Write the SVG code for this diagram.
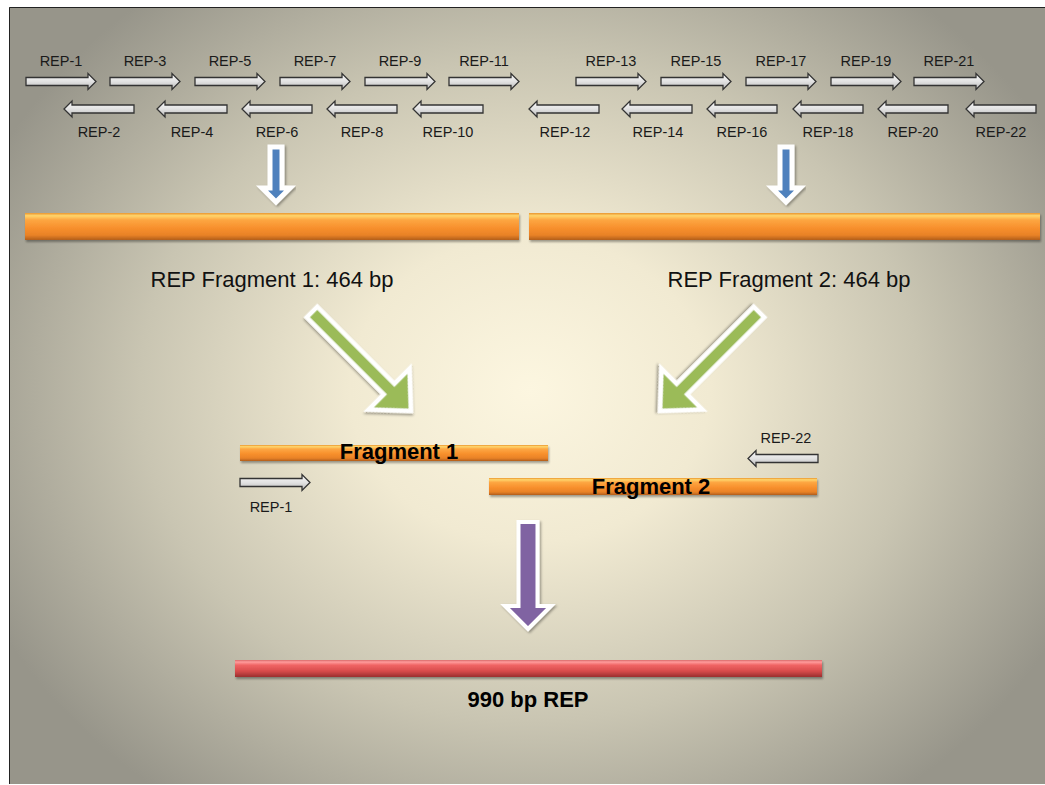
<svg xmlns="http://www.w3.org/2000/svg" xmlns:xlink="http://www.w3.org/1999/xlink" width="1045" height="785" viewBox="0 0 1045 785">
<defs>
  <radialGradient id="bg" gradientUnits="userSpaceOnUse" cx="530" cy="390" r="600" gradientTransform="translate(530 390) scale(1 0.85) translate(-530 -390)">
    <stop offset="0" stop-color="#fcf6e0"/>
    <stop offset="0.3" stop-color="#f1ead2"/>
    <stop offset="0.65" stop-color="#c9c5b2"/>
    <stop offset="1" stop-color="#97958a"/>
  </radialGradient>
  <linearGradient id="og" x1="0" y1="0" x2="0" y2="1">
    <stop offset="0" stop-color="#e9952f"/>
    <stop offset="0.1" stop-color="#ffd56c"/>
    <stop offset="0.25" stop-color="#fda743"/>
    <stop offset="0.55" stop-color="#f8902d"/>
    <stop offset="0.82" stop-color="#e98227"/>
    <stop offset="1" stop-color="#b25e1a"/>
  </linearGradient>
  <linearGradient id="rg" x1="0" y1="0" x2="0" y2="1">
    <stop offset="0" stop-color="#d86a6a"/>
    <stop offset="0.12" stop-color="#ff9c9c"/>
    <stop offset="0.3" stop-color="#f06464"/>
    <stop offset="0.65" stop-color="#d84c4c"/>
    <stop offset="1" stop-color="#9a2e2e"/>
  </linearGradient>
  <linearGradient id="ag" x1="0" y1="0" x2="0" y2="1">
    <stop offset="0" stop-color="#fbfbfb"/>
    <stop offset="0.5" stop-color="#e2e2e2"/>
    <stop offset="1" stop-color="#b9b9b9"/>
  </linearGradient>
  <filter id="sh" x="-10%" y="-50%" width="120%" height="200%">
    <feDropShadow dx="1" dy="2" stdDeviation="1.2" flood-color="#000" flood-opacity="0.35"/>
  </filter>
  <filter id="sh2" x="-20%" y="-20%" width="140%" height="140%">
    <feDropShadow dx="1.5" dy="1.5" stdDeviation="1" flood-color="#000" flood-opacity="0.35"/>
  </filter>
  <path id="ra" d="M0,-4 H62 V-8 L70,0 L62,8 V4 H0 Z"/>
  <path id="ga" d="M-140,-7.5 H-31 V-29 L0,0 L-31,29 V7.5 H-140 Z"/>
</defs>
<style>
  .lbl{font-family:"Liberation Sans",Arial,sans-serif;font-size:14.5px;fill:#1a1a1a;text-anchor:middle}
  .big{font-family:"Liberation Sans",Arial,sans-serif;font-size:22px;fill:#111;text-anchor:middle}
  .bold{font-family:"Liberation Sans",Arial,sans-serif;font-size:22px;font-weight:bold;fill:#000;text-anchor:middle}
  .rep{fill:url(#ag);stroke:#333;stroke-width:1.3;stroke-linejoin:miter}
  .bar{fill:url(#og);filter:url(#sh)}
  .blue{fill:#4f81bd;stroke:#fff;stroke-width:5;filter:url(#sh2)}
  .green{fill:#9bbb59;stroke:#fff;stroke-width:4.5;filter:url(#sh2)}
  .purple{fill:#8064a2;stroke:#fff;stroke-width:4;filter:url(#sh2)}
</style>
<rect x="0" y="0" width="1045" height="785" fill="#fff"/>
<rect x="9" y="7" width="1036" height="777" fill="url(#bg)"/>
<path d="M9.5,784 V7.5 H1045" fill="none" stroke="#222" stroke-width="1"/>

<g id="connectors">
  <path class="blue" d="M270,147 H282 V188 H290 L276,202 L262,188 H270 Z"/>
  <path class="blue" d="M780,147 H792 V188 H800 L786,202 L772,188 H780 Z"/>
  <use xlink:href="#ga" class="green" transform="translate(411 411) rotate(45)"/>
  <use xlink:href="#ga" class="green" transform="translate(660 411) rotate(135)"/>
  <path class="purple" d="M518.5,522 H537.5 V606 H551 L528,629 L505,606 H518.5 Z"/>
</g>

<g id="rep-primers-forward">
  <use xlink:href="#ra" class="rep" transform="translate(26 81.5)"/>
  <use xlink:href="#ra" class="rep" transform="translate(110 81.5)"/>
  <use xlink:href="#ra" class="rep" transform="translate(195 81.5)"/>
  <use xlink:href="#ra" class="rep" transform="translate(280 81.5)"/>
  <use xlink:href="#ra" class="rep" transform="translate(365 81.5)"/>
  <use xlink:href="#ra" class="rep" transform="translate(449 81.5)"/>
  <use xlink:href="#ra" class="rep" transform="translate(576 81.5)"/>
  <use xlink:href="#ra" class="rep" transform="translate(661 81.5)"/>
  <use xlink:href="#ra" class="rep" transform="translate(746 81.5)"/>
  <use xlink:href="#ra" class="rep" transform="translate(831 81.5)"/>
  <use xlink:href="#ra" class="rep" transform="translate(914 81.5)"/>
  <text class="lbl" x="61" y="66">REP-1</text>
  <text class="lbl" x="145" y="66">REP-3</text>
  <text class="lbl" x="230" y="66">REP-5</text>
  <text class="lbl" x="315" y="66">REP-7</text>
  <text class="lbl" x="400" y="66">REP-9</text>
  <text class="lbl" x="484" y="66">REP-11</text>
  <text class="lbl" x="611" y="66">REP-13</text>
  <text class="lbl" x="696" y="66">REP-15</text>
  <text class="lbl" x="781" y="66">REP-17</text>
  <text class="lbl" x="866" y="66">REP-19</text>
  <text class="lbl" x="949" y="66">REP-21</text>
</g>

<g id="rep-primers-reverse">
  <use xlink:href="#ra" class="rep" transform="translate(134 109) scale(-1 1)"/>
  <use xlink:href="#ra" class="rep" transform="translate(227 109) scale(-1 1)"/>
  <use xlink:href="#ra" class="rep" transform="translate(312 109) scale(-1 1)"/>
  <use xlink:href="#ra" class="rep" transform="translate(397 109) scale(-1 1)"/>
  <use xlink:href="#ra" class="rep" transform="translate(483 109) scale(-1 1)"/>
  <use xlink:href="#ra" class="rep" transform="translate(599 109) scale(-1 1)"/>
  <use xlink:href="#ra" class="rep" transform="translate(692 109) scale(-1 1)"/>
  <use xlink:href="#ra" class="rep" transform="translate(777 109) scale(-1 1)"/>
  <use xlink:href="#ra" class="rep" transform="translate(863 109) scale(-1 1)"/>
  <use xlink:href="#ra" class="rep" transform="translate(948 109) scale(-1 1)"/>
  <use xlink:href="#ra" class="rep" transform="translate(1036 109) scale(-1 1)"/>
  <text class="lbl" x="99" y="137">REP-2</text>
  <text class="lbl" x="192" y="137">REP-4</text>
  <text class="lbl" x="277" y="137">REP-6</text>
  <text class="lbl" x="362" y="137">REP-8</text>
  <text class="lbl" x="448" y="137">REP-10</text>
  <text class="lbl" x="565" y="137">REP-12</text>
  <text class="lbl" x="658" y="137">REP-14</text>
  <text class="lbl" x="742" y="137">REP-16</text>
  <text class="lbl" x="828" y="137">REP-18</text>
  <text class="lbl" x="913" y="137">REP-20</text>
  <text class="lbl" x="1001" y="137">REP-22</text>
</g>

<g id="rep-fragment-1">
  <rect class="bar" x="25" y="213" width="494" height="27"/>
  <text class="big" x="272" y="287">REP Fragment 1: 464 bp</text>
</g>
<g id="rep-fragment-2">
  <rect class="bar" x="529" y="213" width="511" height="27"/>
  <text class="big" x="789" y="287">REP Fragment 2: 464 bp</text>
</g>

<g id="fragment-1">
  <rect class="bar" x="240" y="445" width="308" height="16"/>
  <text class="bold" x="399" y="459">Fragment 1</text>
  <use xlink:href="#ra" class="rep" transform="translate(240 482.5)"/>
  <text class="lbl" x="271" y="512">REP-1</text>
</g>
<g id="fragment-2">
  <rect class="bar" x="489" y="478" width="328" height="17"/>
  <text class="bold" x="651" y="494">Fragment 2</text>
  <use xlink:href="#ra" class="rep" transform="translate(818 458.5) scale(-1 1)"/>
  <text class="lbl" x="786" y="443">REP-22</text>
</g>

<g id="product">
  <rect x="235" y="660" width="587" height="17" fill="url(#rg)" filter="url(#sh)"/>
  <text class="bold" x="528" y="707">990 bp REP</text>
</g>
</svg>
